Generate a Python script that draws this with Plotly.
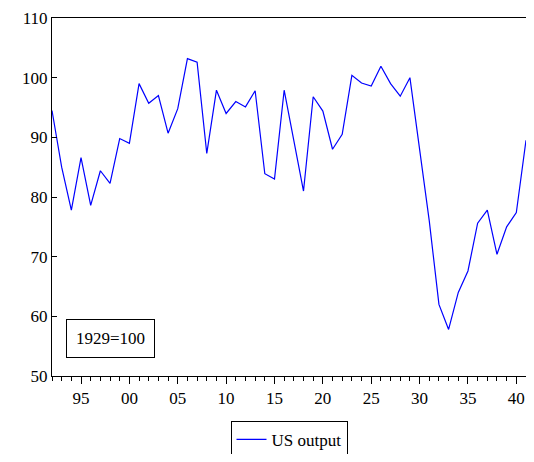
import plotly.graph_objects as go

years = list(range(1892, 1942))
us_output = [94.5, 85, 77.8, 86.6, 78.6, 84.4, 82.3, 89.8, 89, 99,
             95.7, 97, 90.7, 94.8, 103.2, 102.6, 87.3, 97.9, 94, 96,
             95.1, 97.8, 83.9, 83, 97.9, 89.3, 81, 96.8, 94.4, 88,
             90.5, 100.4, 99.1, 98.6, 101.9, 99, 96.9, 100, 88, 76,
             62, 57.8, 64, 67.6, 75.6, 77.8, 70.4, 75, 77.4, 89.5]
tick_vals = list(range(1895, 1942, 5))
tick_text = [str(y)[2:] for y in tick_vals]

font = dict(family="Times New Roman, DejaVu Serif, serif", size=17, color="black")

fig = go.Figure()
fig.add_trace(go.Scatter(x=years, y=us_output, mode="lines", name="US output",
                         line=dict(color="#0000ff", width=1.2)))

fig.update_layout(
    width=518, height=446,
    margin=dict(l=44, r=0, t=10, b=78, autoexpand=False),
    paper_bgcolor="white", plot_bgcolor="white",
    font=font,
    showlegend=True,
    legend=dict(orientation="h", x=0.5, xanchor="center", y=-0.125, yanchor="top",
                bordercolor="black", borderwidth=1, font=font),
    xaxis=dict(range=[1892, 1941], tickvals=tick_vals, ticktext=tick_text,
               ticks="outside", ticklen=7, tickcolor="black",
               minor=dict(dtick=1, ticks="outside", ticklen=4, tickcolor="black"),
               showline=True, linecolor="black", mirror=True, showgrid=False,
               zeroline=False),
    yaxis=dict(range=[50, 110], dtick=10, ticks="inside", ticklen=5, tickcolor="black",
               showline=True, linecolor="black", mirror=True, showgrid=False,
               zeroline=False),
)
fig.add_annotation(x=0.03, y=0.05, xref="paper", yref="paper",
                   xanchor="left", yanchor="bottom", text="1929=100",
                   showarrow=False, bordercolor="black", borderwidth=1,
                   borderpad=9, bgcolor="white", font=font)

fig.write_html("out.html")
